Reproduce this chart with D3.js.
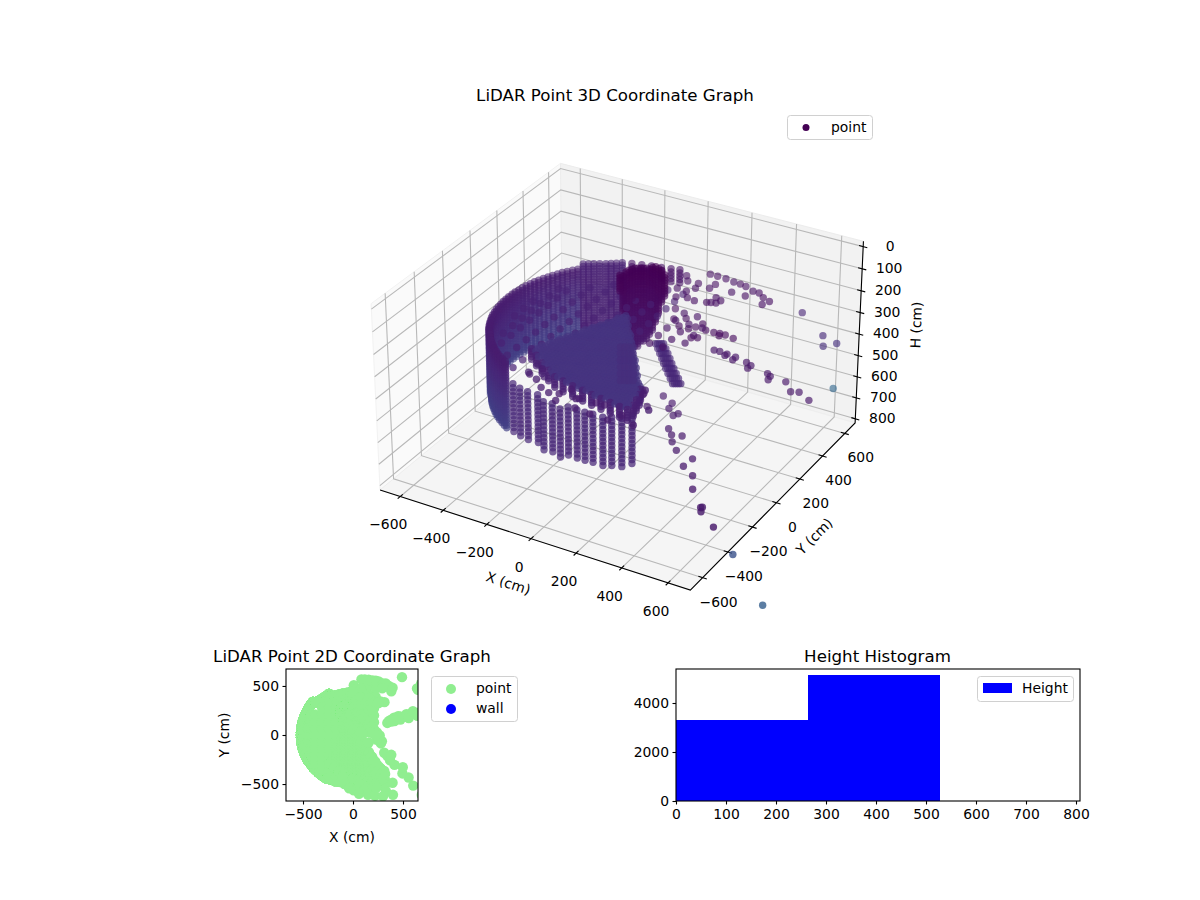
<!DOCTYPE html>
<html>
<head>
<meta charset="utf-8">
<script src="https://d3js.org/d3.v7.min.js"></script>
<style>
body { margin: 0; background: #fff; }
text { font-family: "DejaVu Sans", sans-serif; fill: #000; }
</style>
</head>
<body>
<svg id="fig" width="1200" height="900"></svg>
<script>
//ticks de los ejes//
var xyTicks = [-600, -400, -200, 0, 200, 400, 600];
var hTicks = [0, 100, 200, 300, 400, 500, 600, 700, 800];
var flatTicks = [-500, 0, 500];

//pared densa: columnas x,y y niveles de altura//
var wallX = [-400,-414,-428,-440,-450,-461,-471,-480,-489,-496,-502,-508,-512,-515,-518,-519,-520,-519,-518,-515,-512,-508,-502,-496,-489,-480,-471,-461,-450,-434,-422,-409,-395,-380,-364,-348,-331,-314,-295,-277,-258];
var wallY = [336,318,299,280,260,240,220,199,178,157,135,112,90,68,45,23,0,-23,-45,-68,-90,-112,-135,-157,-178,-199,-220,-240,-260,-277,-295,-314,-331,-348,-364,-380,-395,-409,-422,-434,-446];
var wallLevels = [230,242,254,266,278,290,302,314,326,338,350,362,374,386,398,410,422,434,446,458,470,482,494,506,518,530];

//pared del fondo//
var wallBackX = [-240,-258,-276,-293,-315,-335,-353,-371];
var wallBackY = [418,402,390,378,366,353,341,330];
var wallBackLevels = [195,207,219,231,243,255,267,279,291,303,315,327,339,351,363,375,387,399,411,423,435,447,459,471,483,495];

//columnas sueltas del frente//
var frontX = [-220,-180,-140,-95,-49,-12,33,52,92,126,160,204,233,270,292];
var frontY = [-455,-470,-478,-478,-512,-508,-526,-498,-500,-499,-497,-498,-481,-469,-430];
var frontLevels = [314,332,350,368,386,404,422,440,458,476,494,512,530];

//sector plano, rejilla y contorno//
var sectorX = [-240,-224,-208,-192,-176,-160,-144,-128,-112,-96,-80,-64,-48,-32,-16,0,16,32,48,64,80,96,112,128,144,160,176,192,208,224,240,256,272,288,304,320];
var sectorY = [-512,-496,-480,-464,-448,-432,-416,-400,-384,-368,-352,-336,-320,-304,-288,-272,-256,-240,-224,-208,-192,-176,-160,-144,-128,-112,-96,-80,-64,-48,-32,-16,0,16,32,48,64,80,96,112,128];
var sectorOutline = [[-233,-296],[-47,120],[285,-354],[316,-508],[145,-480],[-44,-435]];
var sectorH = 240;

//borde del sector//
var bandX = [-233,-190,-140,-90,-44,0,50,100,145,190,235,280,316,320,310,300,285];
var bandY = [-296,-330,-370,-405,-435,-447,-460,-470,-480,-487,-495,-503,-508,-470,-430,-390,-354];
var bandLevels = [240,252,264,276,288];

//interior alto//
var innerX = [-450,-415,-380,-310,-240,-170,-100,-30,40];
var innerY = [-420,-350,-280,-210,-140,-70,0,70,140,210,280,350,420,490];
var innerOutline = [[-470,20],[-430,230],[-300,340],[-120,420],[60,480],[60,-100],[-20,-380],[-120,-440],[-260,-420],[-380,-300],[-440,-170]];
var innerH = 265;

//relleno a la derecha H=300//
var fillX = [90,150,90,150,210,90,150,210,90,150,210,90,150];
var fillY = [60,60,130,130,130,200,200,200,270,270,270,340,340];
var fillH = 300;

//grupo oscuro, cada columna con su tramo de alturas//
var clusterX = [-119,-124,-122,-120,-113,-107,-97,-87,-77,-66,-52,-38,-20,-2,16,34];
var clusterY = [190,224,243,263,275,288,294,300,306,312,311,310,302,294,287,279];
var clusterFrom = [110,127,118,118,118,118,118,118,118,118,114,105,100,100,100,110];
var clusterTo = [190,300,398,452,483,487,487,470,461,452,434,407,362,312,245,215];
var clusterLevels = [100,112,124,136,148,160,172,184,196,208,220,232,244,256,268,280,292,304,316,328,340,352,364,376,388,400,412,424,436,448,460,472,484];

//franja azul junto al sector H=150//
var stripX = [137,162,187,213,238,263,151,176,201,227,252,277,165,190,215,241,266,291,179,204,229,255,280,305];
var stripY = [-249,-293,-337,-381,-424,-468,-241,-285,-329,-373,-416,-460,-233,-277,-321,-365,-408,-452,-225,-269,-313,-357,-400,-444];
var stripH = 150;

//franja inclinada H=400//
var slantX = [27,54,80,106,132,158,185,212,239,34,61,87,113,139,165,192,219,246,41,68,94,120,146,172,199,226,253,48,75,101,127,153,179,206,233,260,55,82,108,134,160,186,213,240,267];
var slantY = [220,190,160,130,99,69,39,9,-21,224,194,164,134,103,73,43,13,-17,228,198,168,138,107,77,47,17,-13,232,202,172,142,111,81,51,21,-9,236,206,176,146,115,85,55,25,-5];
var slantH = 400;

//borde trasero//
var backX = [-185,-145,-106,-66,-27,8];
var backY = [400,410,420,430,440,450];
var backLevels = [175,190,205,220,235];

//brazo superior H=230//
var armTopX = [84,118,157,143,138,184,199,198,226,219,197,228,257,300,328,360,396,383,230,292,8,33,80,89,70,135,99,57,26];
var armTopY = [567,566,564,501,461,352,360,405,392,365,556,553,546,526,525,499,483,446,476,475,507,471,474,433,392,340,348,331,397];
var armTopH = 230;

//brazo medio H=350//
var armMidX = [-1,35,75,81,124,142,154,189,168,190,226,250,275,315,256];
var armMidY = [432,355,384,315,315,341,378,339,256,269,338,343,343,335,326];
var armMidH = 350;

//brazo inclinado//
var armLowX = [343,358,382,383,415,410,451,471,474,533,548,557,599,644,664,713];
var armLowY = [123,142,157,138,143,176,191,190,157,213,207,172,242,196,230,219];
var armLowH = [290,301,314,310,323,330,349,357,351,387,392,387,420,428,442,459];

//brazo inferior H=500//
var armFrontX = [792,688,693,703,602,556,494,498,415,371,344,312,383,289,279,239,230,173,157,97,76];
var armFrontY = [-704,-611,-607,-636,-516,-433,-392,-328,-305,-259,-215,-181,-202,-64,-86,-48,-6,25,-76,5,28];
var armFrontH = 500;

//puntos entre el sector y las columnas H=230//
var looseX = [-127,-105,-85,-38,7,45,68,119,129,200,235,313,321,396,329,60,150,220,300,400];
var looseY = [-481,-424,-501,-544,-563,-550,-500,-550,-544,-539,-537,-367,-398,-487,-570,-600,-610,-620,-625,-610];
var looseH = 230;

//puntos lejanos//
var farX = [490,640,650,680,680,836,987];
var farY = [590,475,460,520,505,-630,-674];
var farH = [307,314,352,361,562,650,800];
var farC = [0.1,0.12,0.13,0.14,0.33,0.25,0.3];

//histograma//
var binEdges = [0,264,528,792];
var binCounts = [3306,5143,0];
var histXTicks = [0,100,200,300,400,500,600,700,800];
var histYTicks = [0,2000,4000];

var svg = d3.select("#fig");
var points = [];

function addColumns(xs, ys, levels, c) {
  xs.forEach(function(x, i) {
    levels.forEach(function(h) {
      points.push({x: x, y: ys[i], h: h, c: typeof c === "function" ? c(h) : c});
    });
  });
}
function addPoints(xs, ys, h, c) {
  xs.forEach(function(x, i) {
    points.push({x: x, y: ys[i], h: Array.isArray(h) ? h[i] : h, c: Array.isArray(c) ? c[i] : c});
  });
}
function addGrid(xs, ys, outline, h, c) {
  xs.forEach(function(x) {
    ys.forEach(function(y) {
      if (d3.polygonContains(outline, [x, y])) points.push({x: x, y: y, h: h, c: c});
    });
  });
}

var wallShade = d3.scaleLinear().domain([230, 530]).range([0.08, 0.19]);
var clusterShade = d3.scaleLinear().domain([100, 484]).range([0, 0.07]);
addColumns(wallX, wallY, wallLevels, wallShade);
addColumns(wallBackX, wallBackY, wallBackLevels, 0.09);
addColumns(frontX, frontY, frontLevels, 0.11);
addGrid(innerX, innerY, innerOutline, innerH, 0.09);
addPoints(fillX, fillY, fillH, 0.05);
addGrid(sectorX, sectorY, sectorOutline, sectorH, 0.15);
addColumns(bandX, bandY, bandLevels, 0.09);
clusterX.forEach(function(x, i) {
  clusterLevels.forEach(function(h) {
    if (h >= clusterFrom[i] && h <= clusterTo[i]) points.push({x: x, y: clusterY[i], h: h, c: clusterShade(h)});
  });
});
addPoints(stripX, stripY, stripH, 0.13);
addPoints(slantX, slantY, slantH, 0.11);
addColumns(backX, backY, backLevels, 0.05);
addPoints(armTopX, armTopY, armTopH, 0.04);
addPoints(armMidX, armMidY, armMidH, 0.03);
addPoints(armLowX, armLowY, armLowH, 0.06);
addPoints(armFrontX, armFrontY, armFrontH, 0.07);
addPoints(looseX, looseY, looseH, 0.08);
addPoints(farX, farY, farH, farC);

//proyeccion 3d con vista elev 30, azim -60//
var elev = 30 * Math.PI / 180, azim = -60 * Math.PI / 180, dist = 10;
var n = [Math.cos(elev) * Math.cos(azim), Math.cos(elev) * Math.sin(azim), Math.sin(elev)];
var uLen = Math.hypot(n[0], n[1]);
var u = [-n[1] / uLen, n[0] / uLen, 0];
var v = [n[1] * u[2] - n[2] * u[1], n[2] * u[0] - n[0] * u[2], n[0] * u[1] - n[1] * u[0]];

var xLim = [-695, 695], yLim = [-695, 695], hLim = [820, -24];
var worldX = d3.scaleLinear().domain(xLim).range([-0.5953, 0.5953]);
var worldY = d3.scaleLinear().domain(yLim).range([-0.5953, 0.5953]);
var worldH = d3.scaleLinear().domain(hLim).range([-0.3572, 0.3572]);
var screenX = d3.scaleLinear().domain([-0.1, 0.1]).range([622 - 297.2, 622 + 297.2]);
var screenY = d3.scaleLinear().domain([-0.1, 0.1]).range([365.5 + 297.2, 365.5 - 297.2]);

function project(x, y, h) {
  var q = [worldX(x), worldY(y), worldH(h)];
  var nq = d3.sum(q, function(d, i) { return d * n[i]; });
  var depth = dist - nq;
  return {
    px: screenX(d3.sum(q, function(d, i) { return d * u[i]; }) / depth),
    py: screenY(d3.sum(q, function(d, i) { return d * v[i]; }) / depth),
    near: nq
  };
}
function pathOf(list) {
  return d3.line().x(function(d) { return d.px; }).y(function(d) { return d.py; })(list.map(function(d) { return project(d[0], d[1], d[2]); }));
}

var main = svg.append("g");
var hBottom = hLim[0], hTop = hLim[1];

//paneles//
main.append("path").attr("d", pathOf([[xLim[0], yLim[0], hBottom], [xLim[0], yLim[1], hBottom], [xLim[0], yLim[1], hTop], [xLim[0], yLim[0], hTop]]) + "Z").attr("fill", "#fafafa").attr("stroke", "#f2f2f2");
main.append("path").attr("d", pathOf([[xLim[0], yLim[1], hBottom], [xLim[1], yLim[1], hBottom], [xLim[1], yLim[1], hTop], [xLim[0], yLim[1], hTop]]) + "Z").attr("fill", "#f2f2f2").attr("stroke", "#ececec");
main.append("path").attr("d", pathOf([[xLim[0], yLim[0], hBottom], [xLim[1], yLim[0], hBottom], [xLim[1], yLim[1], hBottom], [xLim[0], yLim[1], hBottom]]) + "Z").attr("fill", "#f5f5f5").attr("stroke", "#eeeeee");

//rejilla//
var gridColor = "#b8b8b8";
xyTicks.forEach(function(t) {
  main.append("path").attr("d", pathOf([[t, yLim[0], hBottom], [t, yLim[1], hBottom], [t, yLim[1], hTop]])).attr("fill", "none").attr("stroke", gridColor).attr("stroke-width", 1.1);
  main.append("path").attr("d", pathOf([[xLim[1], t, hBottom], [xLim[0], t, hBottom], [xLim[0], t, hTop]])).attr("fill", "none").attr("stroke", gridColor).attr("stroke-width", 1.1);
});
hTicks.forEach(function(t) {
  main.append("path").attr("d", pathOf([[xLim[0], yLim[0], t], [xLim[0], yLim[1], t], [xLim[1], yLim[1], t]])).attr("fill", "none").attr("stroke", gridColor).attr("stroke-width", 1.1);
});

//ejes, ticks y etiquetas//
main.append("path").attr("d", pathOf([[xLim[0], yLim[0], hBottom], [xLim[1], yLim[0], hBottom], [xLim[1], yLim[1], hBottom], [xLim[1], yLim[1], hTop]])).attr("fill", "none").attr("stroke", "#000").attr("stroke-width", 1.1);
xyTicks.forEach(function(t) {
  main.append("path").attr("d", pathOf([[t, yLim[0] - 18, hBottom], [t, yLim[0] + 18, hBottom]])).attr("stroke", "#000").attr("stroke-width", 1.1);
  var a = project(t, yLim[0], hBottom);
  main.append("text").attr("x", a.px - 12).attr("y", a.py + 33).attr("text-anchor", "middle").attr("font-size", 13.9).text(d3.format("")(t));
  main.append("path").attr("d", pathOf([[xLim[1] - 18, t, hBottom], [xLim[1] + 18, t, hBottom]])).attr("stroke", "#000").attr("stroke-width", 1.1);
  var b = project(xLim[1], t, hBottom);
  main.append("text").attr("x", b.px + 16).attr("y", b.py + 29).attr("text-anchor", "middle").attr("font-size", 13.9).text(d3.format("")(t));
});
hTicks.forEach(function(t) {
  main.append("path").attr("d", pathOf([[xLim[1] - 18, yLim[1], t], [xLim[1] + 18, yLim[1], t]])).attr("stroke", "#000").attr("stroke-width", 1.1);
  var c = project(xLim[1], yLim[1], t);
  main.append("text").attr("x", c.px + 27).attr("y", c.py + 4).attr("text-anchor", "middle").attr("font-size", 13.9).text(t);
});
main.append("text").attr("transform", "translate(508,584) rotate(18)").attr("text-anchor", "middle").attr("dominant-baseline", "middle").attr("font-size", 13.9).text("X (cm)");
main.append("text").attr("transform", "translate(815,537) rotate(-45)").attr("text-anchor", "middle").attr("dominant-baseline", "middle").attr("font-size", 13.9).text("Y (cm)");
main.append("text").attr("transform", "translate(917,325) rotate(-88)").attr("text-anchor", "middle").attr("dominant-baseline", "middle").attr("font-size", 13.9).text("H (cm)");

//puntos 3d de atras hacia adelante//
var shade = d3.scaleLinear().domain([-0.6, 0.6]).range([0.5, 0.8]);
var placed = points.map(function(d) {
  var p = project(d.x, d.y, d.h);
  return {px: p.px, py: p.py, near: p.near, c: d.c};
});
placed.sort(function(a, b) { return d3.ascending(a.near, b.near); });
main.append("g").selectAll("circle").data(placed).join("circle")
  .attr("cx", function(d) { return d.px; })
  .attr("cy", function(d) { return d.py; })
  .attr("r", 3.7)
  .attr("fill", function(d) { return d3.interpolateViridis(d.c); })
  .attr("fill-opacity", function(d) { return shade(d.near); });

main.append("text").attr("x", 615).attr("y", 100.5).attr("text-anchor", "middle").attr("font-size", 16.67).text("LiDAR Point 3D Coordinate Graph");

function legendBox(x, y, w, h) {
  svg.append("rect").attr("x", x).attr("y", y).attr("width", w).attr("height", h).attr("rx", 3).attr("fill", "#fff").attr("fill-opacity", 0.8).attr("stroke", "#d0d0d0");
}
legendBox(787.5, 115.5, 85, 24);
svg.append("circle").attr("cx", 806).attr("cy", 127.5).attr("r", 3.5).attr("fill", "#440154");
svg.append("text").attr("x", 831).attr("y", 132).attr("font-size", 13.9).text("point");

function styleAxis(g) {
  g.selectAll("text").attr("font-size", 13.9).attr("font-family", "DejaVu Sans");
  g.selectAll("line").attr("stroke-width", 1.1);
  g.select(".domain").attr("stroke", "none");
}
function frame(x, y, w, h) {
  svg.append("rect").attr("x", x).attr("y", y).attr("width", w).attr("height", h).attr("fill", "none").attr("stroke", "#000").attr("stroke-width", 1.1);
}

//grafica 2d//
var flatLeft = 286, flatRight = 418, flatTop = 669, flatBottom = 801;
var flatX = d3.scaleLinear().domain([-670, 650]).range([flatLeft, flatRight]);
var flatY = d3.scaleLinear().domain([-673, 673]).range([flatBottom, flatTop]);
svg.append("clipPath").attr("id", "flatClip").append("rect").attr("x", flatLeft).attr("y", flatTop).attr("width", flatRight - flatLeft).attr("height", flatBottom - flatTop);
svg.append("g").attr("clip-path", "url(#flatClip)").selectAll("circle").data(points).join("circle")
  .attr("cx", function(d) { return flatX(d.x); })
  .attr("cy", function(d) { return flatY(d.y); })
  .attr("r", 5.2)
  .attr("fill", "lightgreen");
frame(flatLeft, flatTop, flatRight - flatLeft, flatBottom - flatTop);
svg.append("g").attr("transform", "translate(0," + flatBottom + ")").call(d3.axisBottom(flatX).tickValues(flatTicks).tickSize(3.5).tickPadding(5)).call(styleAxis);
svg.append("g").attr("transform", "translate(" + flatLeft + ",0)").call(d3.axisLeft(flatY).tickValues(flatTicks).tickSize(3.5).tickPadding(3.5)).call(styleAxis);
svg.append("text").attr("x", 352).attr("y", 661.5).attr("text-anchor", "middle").attr("font-size", 16.67).text("LiDAR Point 2D Coordinate Graph");
svg.append("text").attr("x", 352).attr("y", 842).attr("text-anchor", "middle").attr("font-size", 13.9).text("X (cm)");
svg.append("text").attr("transform", "translate(229,735) rotate(-90)").attr("text-anchor", "middle").attr("font-size", 13.9).text("Y (cm)");
legendBox(431.5, 676.5, 86, 45);
svg.append("circle").attr("cx", 451).attr("cy", 689).attr("r", 5).attr("fill", "lightgreen");
svg.append("circle").attr("cx", 451).attr("cy", 709).attr("r", 5).attr("fill", "blue");
svg.append("text").attr("x", 476).attr("y", 693).attr("font-size", 13.9).text("point");
svg.append("text").attr("x", 476).attr("y", 713).attr("font-size", 13.9).text("wall");

//histograma de alturas//
var histLeft = 676, histRight = 1080, histTop = 669, histBottom = 801;
var histX = d3.scaleLinear().domain([0, 808]).range([histLeft, histRight]);
var histY = d3.scaleLinear().domain([0, 5388]).range([histBottom, histTop]);
svg.append("g").selectAll("rect").data(binCounts).join("rect")
  .attr("x", function(d, i) { return histX(binEdges[i]); })
  .attr("width", function(d, i) { return histX(binEdges[i + 1]) - histX(binEdges[i]); })
  .attr("y", function(d) { return histY(d); })
  .attr("height", function(d) { return histBottom - histY(d); })
  .attr("fill", "blue");
frame(histLeft, histTop, histRight - histLeft, histBottom - histTop);
svg.append("g").attr("transform", "translate(0," + histBottom + ")").call(d3.axisBottom(histX).tickValues(histXTicks).tickFormat(d3.format("d")).tickSize(3.5).tickPadding(5)).call(styleAxis);
svg.append("g").attr("transform", "translate(" + histLeft + ",0)").call(d3.axisLeft(histY).tickValues(histYTicks).tickFormat(d3.format("d")).tickSize(3.5).tickPadding(3.5)).call(styleAxis);
svg.append("text").attr("x", 877.5).attr("y", 661.5).attr("text-anchor", "middle").attr("font-size", 16.67).text("Height Histogram");
legendBox(977.5, 676.5, 96, 25);
svg.append("rect").attr("x", 983).attr("y", 683).attr("width", 29).attr("height", 10).attr("fill", "blue");
svg.append("text").attr("x", 1022).attr("y", 693).attr("font-size", 13.9).text("Height");
</script>
</body>
</html>
